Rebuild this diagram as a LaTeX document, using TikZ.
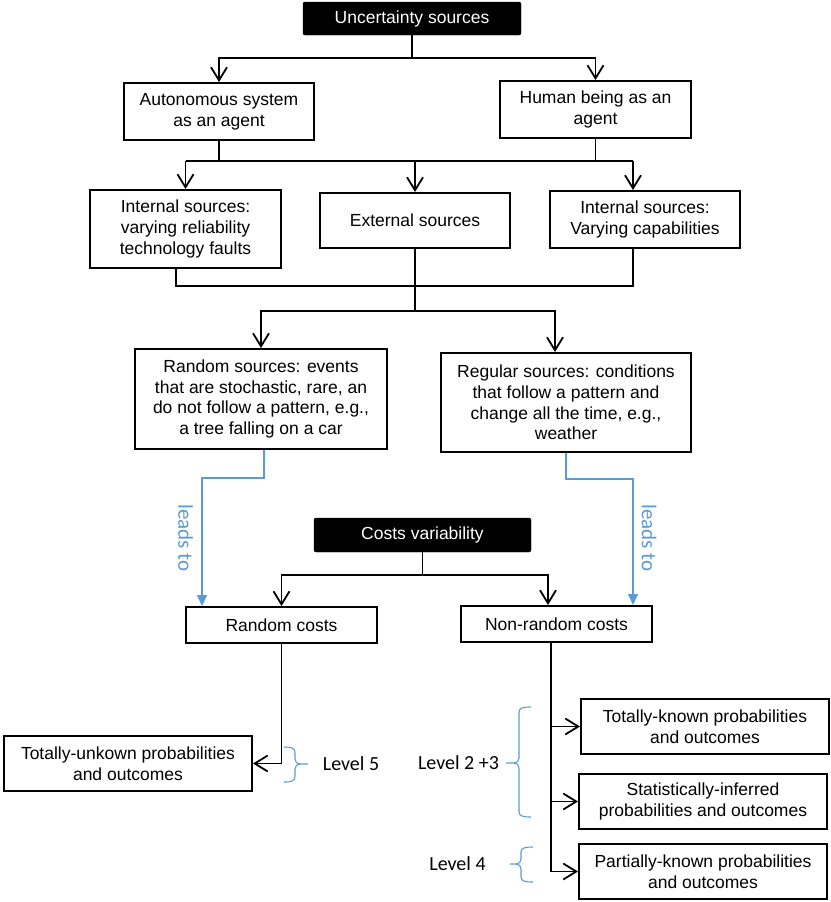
\documentclass[tikz,border=0pt]{standalone}
\usepackage{fontspec}
\setmainfont{Liberation Sans}
\newfontfamily\calfont{Carlito}
\usetikzlibrary{arrows.meta}
\definecolor{lblue}{RGB}{91,155,213}
\begin{document}
\begin{tikzpicture}[x=1pt,y=-1pt,
  box/.style={draw, line width=2pt, align=center, inner sep=0pt,
    font=\fontsize{17.5}{20.7}\selectfont},
  blk/.style={fill=black, draw=black, text=white, rounded corners=2pt, align=center,
    inner sep=0pt, font=\fontsize{17.5}{20.7}\selectfont},
  conn/.style={line width=1.8pt},
  arr/.style={conn, -{Straight Barb[length=13pt,width=16pt]}},
  bl/.style={draw=lblue, line width=1.6pt, -{Triangle[length=11pt,width=10pt]}},
  lead/.style={text=lblue, rotate=-90, font=\calfont\fontsize{21}{24}\selectfont, inner sep=0pt},
  lvl/.style={font=\calfont\fontsize{20}{24}\selectfont, inner sep=0pt},
  brc/.style={draw=lblue, line width=1.1pt}]
\useasboundingbox (0,0) rectangle (830,902);

% nodes
\node[blk, minimum width=218pt, minimum height=33pt] (unc) at (412,18.5) {Uncertainty sources};
\node[box, minimum width=190pt, minimum height=57pt] (auto) at (219,111.5) {Autonomous system\\as an agent};
\node[box, minimum width=191pt, minimum height=57pt] (human) at (595.5,109.5) {Human being as an\\agent};
\node[box, minimum width=191pt, minimum height=78pt] (intl) at (185.5,229) {Internal sources:\\varying reliability\\technology faults};
\node[box, minimum width=190pt, minimum height=55pt] (ext) at (415,220.5) {External sources};
\node[box, minimum width=190pt, minimum height=57pt] (intr) at (645,219.5) {Internal sources:\\Varying capabilities};
\node[box, minimum width=252pt, minimum height=100pt] (rands) at (261,399) {Random sources: events\\that are stochastic, rare, an\\do not follow a pattern, e.g.,\\a tree falling on a car};
\node[box, minimum width=250pt, minimum height=99pt] (regs) at (566,402.5) {Regular sources: conditions\\that follow a pattern and\\change all the time, e.g.,\\weather};
\node[blk, minimum width=217pt, minimum height=34pt] (costs) at (422.5,535) {Costs variability};
\node[box, minimum width=191pt, minimum height=36pt] (rc) at (281.5,625) {Random costs};
\node[box, minimum width=191pt, minimum height=36pt] (nrc) at (556.5,624) {Non-random costs};
\node[box, minimum width=248pt, minimum height=55pt] (tu) at (128,763.5) {Totally-unkown probabilities\\and outcomes};
\node[box, minimum width=248pt, minimum height=55pt] (tk) at (705,726.5) {Totally-known probabilities\\and outcomes};
\node[box, minimum width=248pt, minimum height=55pt] (si) at (703,801.5) {Statistically-inferred\\probabilities and outcomes};
\node[box, minimum width=248pt, minimum height=55pt] (pk) at (703,871.5) {Partially-known probabilities\\and outcomes};

\node[lead] (lead1) at (185.5,538) {leads to};
\node[lead] (lead2) at (649,538) {leads to};
\node[lvl] (l5) at (351,764) {Level 5};
\node[lvl] (l23) at (458.5,763) {Level 2 +3};
\node[lvl] (l4) at (457.5,864) {Level 4};

% connectors
\coordinate (j1) at (unc.south |- 0,58);
\draw[conn] (unc.south) -- (j1);
\draw[arr] (j1) -| (auto.north);
\draw[arr] (j1) -| (human.north);

\coordinate (j2l) at (auto.south |- 0,161);
\coordinate (j2r) at (human.south |- 0,161);
\draw[conn] (auto.south) -- (j2l);
\draw[conn] (human.south) -- (j2r);
\coordinate (h2a) at (intl.north |- 0,161);
\coordinate (h2c) at (633,161);
\draw[conn] (h2a) -- (h2c);
\draw[arr] (h2a) -- (intl.north);
\draw[arr] (ext.north |- h2a) -- (ext.north);
\draw[arr] (h2c) -- (h2c |- intr.north);

\coordinate (k) at (633,286);
\draw[conn] ([xshift=-9.5pt]intl.south) |- (k) -- (k |- intr.south);
\coordinate (j3) at (ext.south |- 0,311);
\draw[conn] (ext.south) -- (j3);
\draw[arr] (j3) -| (rands.north);
\draw[arr] (j3) -| ([xshift=-11pt]regs.north);

\draw[bl] ([xshift=3pt]rands.south) -- ++(0,28) -| ([xshift=-79.5pt]rc.north);
\draw[bl] (regs.south) -- ++(0,26) -| ([xshift=76.5pt]nrc.north);

\coordinate (j4) at (costs.south |- 0,575);
\draw[conn] (costs.south) -- (j4);
\draw[arr] (j4) -| (rc.north);
\draw[arr] (j4) -| ([xshift=-8.5pt]nrc.north);

\draw[arr] (rc.south) |- (tu.east);

\coordinate (t0) at ([xshift=-5.5pt]nrc.south);
\draw[conn] (t0) -- (t0 |- pk.west);
\draw[arr] (t0 |- tk.west) -- (tk.west);
\draw[arr] (t0 |- si.west) -- (si.west);
\draw[arr] (t0 |- pk.west) -- (pk.west);

% braces
\draw[brc] (284,747) .. controls (292,747) and (295,748) .. (295,753) -- (295,759)
  .. controls (295,762) and (297,764) .. (300,764) -- (308,764);
\draw[brc] (284,782) .. controls (292,782) and (295,781) .. (295,776) -- (295,769)
  .. controls (295,766) and (297,764) .. (300,764);

\draw[brc] (531,707) .. controls (523,707) and (519,708) .. (519,712) -- (519,758)
  .. controls (519,761) and (517,763) .. (514,763) -- (506,763);
\draw[brc] (531,817) .. controls (523,817) and (519,816) .. (519,812) -- (519,768)
  .. controls (519,765) and (517,763) .. (514,763);

\draw[brc] (533,847) .. controls (525,847) and (521,848) .. (521,852) -- (521,859)
  .. controls (521,862) and (519,864) .. (516,864) -- (510,864);
\draw[brc] (533,882) .. controls (525,882) and (521,881) .. (521,877) -- (521,869)
  .. controls (521,866) and (519,864) .. (516,864);
\end{tikzpicture}
\end{document}
